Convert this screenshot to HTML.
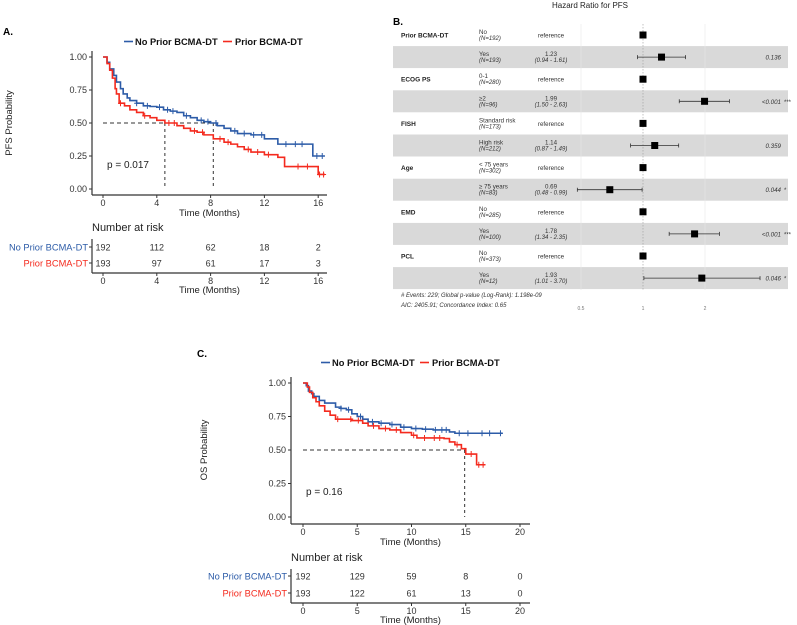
<!DOCTYPE html>
<html><head><meta charset="utf-8">
<style>
html,body{margin:0;padding:0;background:#fff;}
svg{display:block;font-family:"Liberation Sans",sans-serif;}
</style></head>
<body>
<svg id="fig" width="797" height="625" viewBox="0 0 797 625"></svg>
<script>
// ---------- DATA ----------
const pfsNoTimes=[0,0.3,0.5,0.8,1,1.3,1.5,1.8,2,2.5,3,3.5,4,4.5,5,5.5,6,6.5,7,7.5,8,8.5,9,9.5,10,11,12,13,15.6,16.5];
const pfsNoSurv =[1,0.96,0.91,0.86,0.81,0.76,0.72,0.69,0.67,0.65,0.63,0.625,0.62,0.60,0.59,0.58,0.555,0.54,0.52,0.51,0.50,0.48,0.46,0.44,0.42,0.41,0.38,0.34,0.25,0.25];
const pfsPrTimes=[0,0.3,0.5,0.7,0.9,1,1.2,1.6,2,2.5,3,3.5,4,4.6,5.5,6,6.5,7,7.5,8.2,9,9.5,10,10.5,11,12,13,13.5,16,16.5];
const pfsPrSurv =[1,0.95,0.9,0.84,0.76,0.72,0.65,0.63,0.60,0.58,0.555,0.54,0.52,0.50,0.48,0.46,0.44,0.43,0.41,0.38,0.355,0.34,0.32,0.30,0.28,0.26,0.24,0.17,0.11,0.11];
const pfsNoCens=[2.5,3.3,4.2,4.8,5.2,6.2,7.3,7.8,8.4,9.8,10.5,11.2,11.8,13.6,14.3,14.8,15.9,16.3];
const pfsPrCens=[1.3,3.1,4.9,5.3,6.8,7.4,8.7,9.3,10.8,11.5,12.3,14.5,15.2,16.1,16.4];
const osNoTimes=[0,0.3,0.5,0.8,1,1.5,2,3,3.5,4,4.5,5,5.5,6,7,8,9,10,11,12,13.5,14,18.4];
const osNoSurv =[1,0.98,0.94,0.92,0.90,0.87,0.85,0.82,0.81,0.80,0.77,0.75,0.73,0.71,0.70,0.69,0.67,0.66,0.655,0.65,0.635,0.625,0.625];
const osPrTimes=[0,0.4,0.6,0.9,1.2,1.5,2,2.5,3,4.5,5.5,6,7,8,9,10,10.5,13,13.5,14,14.6,15,16,16.8];
const osPrSurv =[1,0.97,0.93,0.89,0.86,0.83,0.79,0.76,0.73,0.72,0.70,0.68,0.66,0.65,0.63,0.61,0.59,0.585,0.56,0.54,0.51,0.47,0.39,0.39];
const osNoCens=[3.5,4.2,5.3,6.4,7.2,8.2,9.3,10.4,11.3,12.2,12.8,13.2,14.4,15.2,16.5,17.2,18.2];
const osPrCens=[3.2,4.4,5.1,6.5,7.6,8.6,10.2,11.2,12.1,12.6,14.2,15.5,16.2,16.6];
const riskA_no=[192,112,62,18,2], riskA_pr=[193,97,61,17,3], riskA_t=[0,4,8,12,16];
const riskC_no=[192,129,59,8,0], riskC_pr=[193,122,61,13,0], riskC_t=[0,5,10,15,20];
const yTicks=["0.00","0.25","0.50","0.75","1.00"];
// Forest
const fVars=["Prior BCMA-DT","","ECOG PS","","FISH","","Age","","EMD","","PCL",""];
const fLevels=["No","Yes","0-1","≥2","Standard risk","High risk","< 75 years","≥ 75 years","No","Yes","No","Yes"];
const fN=[192,193,280,96,173,212,302,83,285,100,373,12];
const fHR=[1,1.23,1,1.99,1,1.14,1,0.69,1,1.78,1,1.93];
const fLo=[null,0.94,null,1.50,null,0.87,null,0.48,null,1.34,null,1.01];
const fHi=[null,1.61,null,2.63,null,1.49,null,0.99,null,2.35,null,3.70];
const fP=["","0.136","","<0.001 ***","","0.359","","0.044 *","","<0.001 ***","","0.046 *"];
const fTicks=[0.5,1,2];

const NS="http://www.w3.org/2000/svg";
const svg=document.getElementById('fig');
function el(t,a,txt,parent){const e=document.createElementNS(NS,t);for(const k in a)e.setAttribute(k,a[k]);if(txt!=null)e.textContent=txt;(parent||svg).appendChild(e);return e;}
const BLUE="#2D5CA8", RED="#F42A1E", GREY="#333";

function km(cfg){
  const g=el('g',{});
  
  
  const X=t=>cfg.x0+t*cfg.pxPer, Y=s=>cfg.y0-s*(cfg.y0-cfg.y1);
  el('line',{x1:cfg.ax,y1:cfg.y1-6,x2:cfg.ax,y2:cfg.axY,stroke:GREY,'stroke-width':1.2,},null,g);
  el('line',{x1:cfg.ax,y1:cfg.axY,x2:cfg.axEnd,y2:cfg.axY,stroke:GREY,'stroke-width':1.2,},null,g);
  yTicks.forEach((l,i)=>{const y=Y(i*0.25);
    el('line',{x1:cfg.ax-3,y1:y,x2:cfg.ax,y2:y,stroke:GREY},null,g);
    el('text',{x:cfg.ax-5,y:y+3,'font-size':9,'text-anchor':'end',fill:'#333',},l,g);});
  cfg.ticks.forEach(t=>{const x=X(t);
    el('line',{x1:x,y1:cfg.axY,x2:x,y2:cfg.axY+3,stroke:GREY},null,g);
    el('text',{x:x,y:cfg.axY+11,'font-size':9,'text-anchor':'middle',fill:'#333',},t,g);});
  el('text',{x:(cfg.ax+cfg.axEnd)/2,y:cfg.axY+21,'font-size':9.5,'text-anchor':'middle',fill:'#222',},'Time (Months)',g);
  el('text',{x:0,y:0,'font-size':9.5,'text-anchor':'middle',fill:'#222',transform:`translate(${cfg.ylabX},${(Y(0)+Y(1))/2}) rotate(-90)`,},cfg.ylab,g);
  el('path',{d:`M${X(0)},${Y(0.5)}H${X(cfg.medMax)}`,stroke:'#333','stroke-dasharray':'4,3',fill:'none'},null,g);
  cfg.meds.forEach(m=>el('path',{d:`M${X(m)},${Y(0.5)}V${Y(0)}`,stroke:'#333','stroke-dasharray':'3,3',fill:'none'},null,g));
  const series=[[cfg.noT,cfg.noS,cfg.noC,BLUE,'curve-no-prior'],[cfg.prT,cfg.prS,cfg.prC,RED,'curve-prior']];
  series.forEach(([T,S,C,col,nm])=>{
    let d=`M${X(T[0])},${Y(S[0])}`;
    for(let i=1;i<T.length;i++){d+=`H${X(T[i])}V${Y(S[i])}`;}
    const p=el('path',{d:d,stroke:col,'stroke-width':1.6,fill:'none'},null,g);
    
    
    C.forEach(c=>{let s=S[0];for(let i=0;i<T.length;i++){if(T[i]<=c)s=S[i];}
      const m=el('path',{d:`M${X(c)},${Y(s)-3}v6M${X(c)-2.5},${Y(s)}h5`,stroke:col,'stroke-width':1},null,g);
      
      });
  });
  el('text',{x:cfg.pX,y:cfg.pY,'font-size':10,fill:'#222',},cfg.pTxt,g);
  const lg=el('g',{},null,g);
  el('path',{d:`M${cfg.lgX},${cfg.lgY-3.5}h9`,stroke:BLUE,'stroke-width':1.6},null,lg);
  el('text',{x:cfg.lgX+11,y:cfg.lgY,'font-size':9.3,'font-weight':'bold',fill:'#111',},'No Prior BCMA-DT',lg);
  el('path',{d:`M${cfg.lgX+99},${cfg.lgY-3.5}h9`,stroke:RED,'stroke-width':1.6},null,lg);
  el('text',{x:cfg.lgX+111,y:cfg.lgY,'font-size':9.3,'font-weight':'bold',fill:'#111',},'Prior BCMA-DT',lg);
  const rt=el('g',{},null,g);
  el('text',{x:cfg.ax,y:cfg.rtY,'font-size':11,fill:'#222',},'Number at risk',rt);
  el('line',{x1:cfg.ax,y1:cfg.rtY+8,x2:cfg.ax,y2:cfg.rtAx,stroke:GREY,'stroke-width':1.2},null,rt);
  el('line',{x1:cfg.ax,y1:cfg.rtAx,x2:cfg.axEnd,y2:cfg.rtAx,stroke:GREY,'stroke-width':1.2},null,rt);
  [[cfg.rNo,BLUE,'No Prior BCMA-DT',cfg.r1],[cfg.rPr,RED,'Prior BCMA-DT',cfg.r2]].forEach(([vals,col,lab,y])=>{
    el('text',{x:cfg.ax-4,y:y+3.5,'font-size':9.3,'text-anchor':'end',fill:col,},lab,rt);
    el('line',{x1:cfg.ax-3,y1:y,x2:cfg.ax,y2:y,stroke:GREY},null,rt);
    vals.forEach((v,i)=>el('text',{x:X(cfg.rT[i]),y:y+3.5,'font-size':9,'text-anchor':'middle',fill:'#333',},v,rt));
  });
  cfg.ticks.forEach(t=>{const x=X(t);
    el('line',{x1:x,y1:cfg.rtAx,x2:x,y2:cfg.rtAx+3,stroke:GREY},null,rt);
    el('text',{x:x,y:cfg.rtAx+11,'font-size':9,'text-anchor':'middle',fill:'#333'},t,rt);});
  el('text',{x:(cfg.ax+cfg.axEnd)/2,y:cfg.rtAx+20,'font-size':9.5,'text-anchor':'middle',fill:'#222'},'Time (Months)',rt);
}

el('text',{x:3,y:35,'font-size':10,'font-weight':'bold',},'A.');
km({name:'panel-a-pfs',x0:103,pxPer:13.45,y0:189,y1:57,ax:92,axEnd:327,axY:195,ticks:[0,4,8,12,16],ylab:'PFS Probability',ylabX:12,
  medMax:8.2,meds:[4.6,8.2],noT:pfsNoTimes,noS:pfsNoSurv,noC:pfsNoCens,prT:pfsPrTimes,prS:pfsPrSurv,prC:pfsPrCens,
  pX:107,pY:168,pTxt:'p = 0.017',lgX:124,lgY:45,rtY:231,r1:247,r2:263,rtAx:273,rNo:riskA_no,rPr:riskA_pr,rT:riskA_t});

el('text',{x:197,y:357,'font-size':10,'font-weight':'bold',},'C.');
km({name:'panel-c-os',x0:303,pxPer:10.85,y0:517,y1:383,ax:291,axEnd:530,axY:524,ticks:[0,5,10,15,20],ylab:'OS Probability',ylabX:207,
  medMax:14.9,meds:[14.9],noT:osNoTimes,noS:osNoSurv,noC:osNoCens,prT:osPrTimes,prS:osPrSurv,prC:osPrCens,
  pX:306,pY:495,pTxt:'p = 0.16',lgX:321,lgY:366,rtY:561,r1:576,r2:593,rtAx:603,rNo:riskC_no,rPr:riskC_pr,rT:riskC_t});

// ---------- FOREST ----------
const fg=el('g',{});
el('text',{x:590,y:8,'font-size':8,'text-anchor':'middle',fill:'#222',},'Hazard Ratio for PFS',fg);
el('text',{x:393,y:25,'font-size':10,'font-weight':'bold',},'B.',fg);
const HX=v=>643+Math.log2(v)*62;
const rowY=i=>35+i*22.1;
fVars.forEach((v,i)=>{const y=rowY(i);
  if(i%2===1){const b=el('rect',{x:393,y:y-11,width:395,height:22,fill:'#d9d9d9'},null,fg);
    }
});
fTicks.forEach(t=>{el('line',{x1:HX(t),y1:24,x2:HX(t),y2:290,stroke:t===1?'#999':'#e6e6e6','stroke-width':0.6,'stroke-dasharray':t===1?'1.5,1.5':''},null,fg);
  el('text',{x:HX(t),y:310,'font-size':5,'text-anchor':'middle',fill:'#777',},t,fg);});
fVars.forEach((v,i)=>{const y=rowY(i);
  if(v)el('text',{x:401,y:y+2.5,'font-size':6.5,'font-weight':'bold',fill:'#222',},v,fg);
  el('text',{x:479,y:y-1,'font-size':6.2,fill:'#333',},fLevels[i],fg);
  el('text',{x:479,y:y+5,'font-size':6,'font-style':'italic',fill:'#333'},'(N='+fN[i]+')',fg);
  if(fLo[i]==null){el('text',{x:551,y:y+2.5,'font-size':6.2,'text-anchor':'middle',fill:'#333'},'reference',fg);}
  else{el('text',{x:551,y:y-1,'font-size':6.2,'text-anchor':'middle',fill:'#333'},fHR[i].toFixed(2),fg);
    el('text',{x:551,y:y+5,'font-size':6,'font-style':'italic','text-anchor':'middle',fill:'#333'},'('+fLo[i].toFixed(2)+' - '+fHi[i].toFixed(2)+')',fg);
    el('path',{d:`M${HX(fLo[i])},${y}H${HX(fHi[i])}M${HX(fLo[i])},${y-2}v4M${HX(fHi[i])},${y-2}v4`,stroke:'#333','stroke-width':0.8,fill:'none'},null,fg);
    const pp=fP[i].split(' ');
    el('text',{x:781,y:y+2.5,'font-size':6.2,'font-style':'italic','text-anchor':'end',fill:'#333',},pp[0],fg);
    if(pp[1])el('text',{x:784,y:y+2.5,'font-size':6,fill:'#333'},pp[1],fg);}
  const s=el('rect',{x:HX(fHR[i])-3.5,y:y-3.5,width:7,height:7,fill:'#000'},null,fg);
  
  
});
el('text',{x:401,y:297,'font-size':6,'font-style':'italic',fill:'#333',},'# Events: 229; Global p-value (Log-Rank): 1.198e-09',fg);
el('text',{x:401,y:307,'font-size':6,'font-style':'italic',fill:'#333',},'AIC: 2405.91; Concordance Index: 0.65',fg);
</script>
</body></html>
